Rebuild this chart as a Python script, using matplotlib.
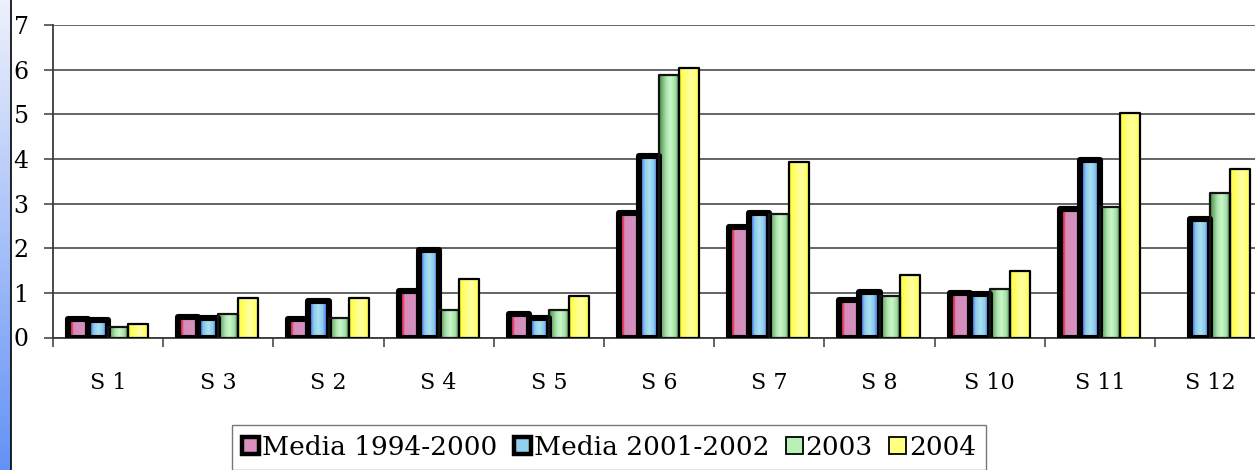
import numpy as np
import matplotlib
matplotlib.use("Agg")
import matplotlib.pyplot as plt
from matplotlib.patches import Rectangle, Patch
from matplotlib.colors import to_rgb
from matplotlib.lines import Line2D

# ---- data ----
categories = ['S 1', 'S 3', 'S 2', 'S 4', 'S 5', 'S 6', 'S 7', 'S 8', 'S 10', 'S 11', 'S 12']
media_1994_2000 = [0.42, 0.46, 0.41, 1.05, 0.53, 2.78, 2.47, 0.83, 1.00, 2.88, None]
media_2001_2002 = [0.40, 0.44, 0.81, 1.97, 0.43, 4.06, 2.80, 1.02, 0.97, 3.97, 2.65]
anno_2003 = [0.23, 0.52, 0.43, 0.61, 0.61, 5.88, 2.77, 0.92, 1.08, 2.92, 3.24]
anno_2004 = [0.30, 0.88, 0.88, 1.30, 0.93, 6.04, 3.93, 1.40, 1.50, 5.03, 3.77]
series_names = ['Media 1994-2000', 'Media 2001-2002', '2003', '2004']
yticks = [0, 1, 2, 3, 4, 5, 6, 7]

plt.rcParams['font.family'] = ['DejaVu Serif']

W, H = 1255, 470
fig = plt.figure(figsize=(W / 100, H / 100), dpi=100)

# blue gradient strip on the left edge
strip = fig.add_axes([0, 0, 11 / W, 1])
grad_v = np.linspace(0, 1, 256)[:, None]
top_c, bot_c = np.array(to_rgb('#eef1fc')), np.array(to_rgb('#6392f6'))
strip_img = top_c[None, None, :] * (1 - grad_v[..., None]) + bot_c[None, None, :] * grad_v[..., None]
strip.imshow(strip_img, aspect='auto', extent=(0, 1, 0, 1))
strip.set_axis_off()
fig.add_artist(Line2D([11.5 / W, 11.5 / W], [0, 1], transform=fig.transFigure,
                      color='black', lw=1.2))

ax_left = 53 / W
ax_right = (53 + 11 * 110.2) / W
ax_bottom = (H - 337.5) / H
ax_top = (H - 25) / H
ax = fig.add_axes([ax_left, ax_bottom, ax_right - ax_left, ax_top - ax_bottom])

# horizontal gradient stops for each series (position across the bar, colour)
gradients = [
    [(0.0, '#e8305a'), (0.15, '#e8305a'), (0.21, '#e03a62'), (0.27, '#d78cba'), (1.0, '#d494c4')],
    [(0.0, '#5a8cf0'), (0.17, '#5a8cf0'), (0.27, '#8cc8ec'), (0.5, '#a8e2f0'), (0.72, '#8cc8ec'), (0.82, '#5a8cf0'), (1.0, '#5a8cf0')],
    [(0.0, '#3f8a3f'), (0.12, '#6aaa6a'), (0.35, '#aee4ae'), (0.55, '#c8f8c8'), (0.8, '#a4dca4'), (0.92, '#4c944c'), (1.0, '#2e7a2e')],
    [(0.0, '#eaea30'), (0.12, '#ffff50'), (0.45, '#ffff90'), (0.6, '#ffffa0'), (0.88, '#ffff60'), (1.0, '#e6e630')],
]
edge_widths = [4.4, 4.4, 1.6, 1.6]
edge_colors = ['black', 'black', '#141414', 'black']
legend_faces = ['#d890bc', '#90d0ec', '#b8f0b8', '#ffff80']
legend_edge_w = [3.2, 3.2, 1.3, 1.3]


def gradient_image(stops, n=200):
    pos = np.array([s[0] for s in stops])
    cols = np.array([to_rgb(s[1]) for s in stops])
    t = np.linspace(0, 1, n)
    img = np.stack([np.interp(t, pos, cols[:, k]) for k in range(3)], axis=-1)
    return img[None, :, :]


bar_w = 1 / 5.5
offsets = [-1.5, -0.5, 0.5, 1.5]
all_series = [media_1994_2000, media_2001_2002, anno_2003, anno_2004]
x = np.arange(len(categories))

for s_idx, values in enumerate(all_series):
    img = gradient_image(gradients[s_idx])
    for i, v in enumerate(values):
        if v is None:
            continue
        x0 = x[i] + (offsets[s_idx] - 0.5) * bar_w
        clip = Rectangle((x0, 0), bar_w, v, transform=ax.transData)
        im = ax.imshow(img, extent=(x0, x0 + bar_w, 0, v), aspect='auto',
                       interpolation='bilinear', zorder=3)
        im.set_clip_path(clip)
        ax.add_patch(Rectangle((x0, 0), bar_w, v, facecolor='none',
                               edgecolor=edge_colors[s_idx], lw=edge_widths[s_idx],
                               joinstyle='round', zorder=4))

ax.set_xlim(-0.5, len(categories) - 0.5)
ax.set_ylim(0, 7)
ax.set_yticks(yticks)
ax.set_yticklabels([str(t) for t in yticks], fontsize=17)
ax.yaxis.grid(True, color='#3a3a3a', lw=1.1, zorder=1)
ax.set_axisbelow(True)

ax.set_xticks(x)
ax.set_xticklabels(categories, fontsize=16)
ax.set_xticks(np.arange(-0.5, len(categories)), minor=True)
ax.tick_params(axis='x', which='major', length=0, pad=25)
ax.tick_params(axis='x', which='minor', length=6.5, width=1.1, color='#3a3a3a', direction='out')
ax.tick_params(axis='y', length=6.5, width=1.1, color='#3a3a3a', direction='out', pad=11)

for side in ['top', 'right']:
    ax.spines[side].set_visible(False)
for side in ['left', 'bottom']:
    ax.spines[side].set_color('#3a3a3a')
    ax.spines[side].set_linewidth(1.3)

handles = [Patch(facecolor=legend_faces[k], edgecolor='black', lw=legend_edge_w[k],
                 joinstyle='round', label=series_names[k]) for k in range(4)]
leg = fig.legend(handles=handles, loc='upper left', bbox_to_anchor=(232 / W, 1 - 425 / H),
                 ncol=4, fontsize=19, frameon=True, fancybox=False, borderaxespad=0,
                 handlelength=0.64, handleheight=0.64, handletextpad=0.12,
                 columnspacing=0.62, borderpad=0.38)
leg.get_frame().set_edgecolor('#555555')
leg.get_frame().set_linewidth(1.0)

fig.savefig('out.png', dpi=100)
